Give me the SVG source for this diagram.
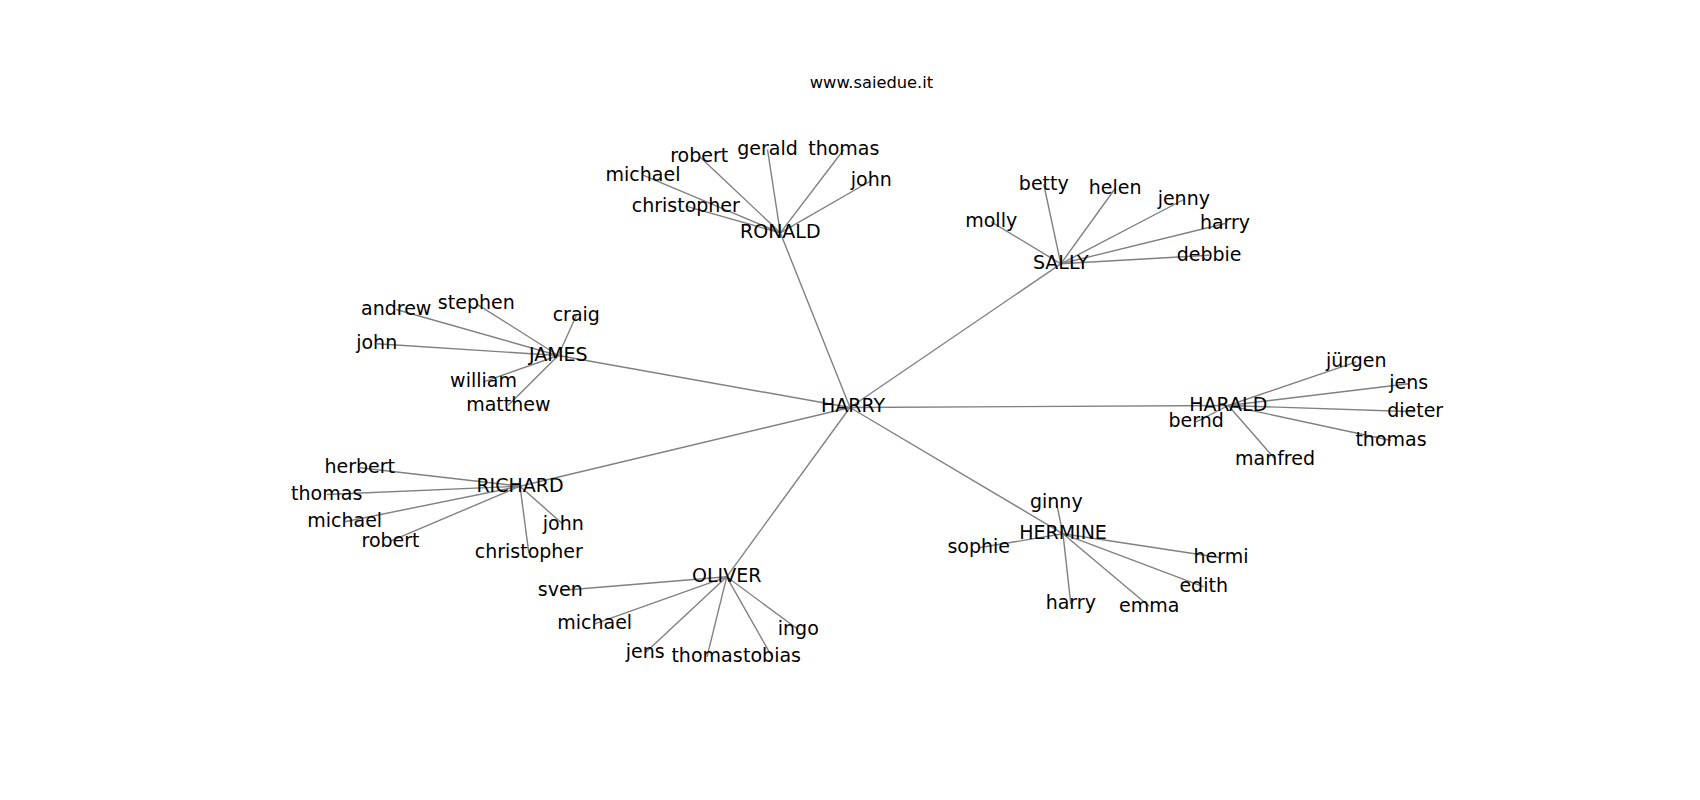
<svg xmlns="http://www.w3.org/2000/svg" width="1700" height="800" viewBox="0 0 1700 800">
<style>
text{font-family:"DejaVu Sans","Liberation Sans",sans-serif;font-size:19px;fill:#000;text-anchor:middle}
.title{font-size:16.3px}
#edges line{stroke:#808080;stroke-width:1.4}
</style>
<rect width="1700" height="800" fill="#fff"/>
<text class="title" x="871.5" y="88">www.saiedue.it</text>
<g id="edges">
<line x1="850" y1="407.5" x2="780.3" y2="232.8"/>
<line x1="850" y1="407.5" x2="1060.8" y2="263.8"/>
<line x1="850" y1="407.5" x2="558.3" y2="355.5"/>
<line x1="850" y1="407.5" x2="1228.3" y2="405.5"/>
<line x1="850" y1="407.5" x2="520" y2="486.2"/>
<line x1="850" y1="407.5" x2="726.7" y2="576.8"/>
<line x1="850" y1="407.5" x2="1063" y2="533.8"/>
<line x1="780.3" y1="232.8" x2="699.2" y2="156.2"/>
<line x1="780.3" y1="232.8" x2="767.5" y2="149.5"/>
<line x1="780.3" y1="232.8" x2="843.8" y2="149.5"/>
<line x1="780.3" y1="232.8" x2="643" y2="175.2"/>
<line x1="780.3" y1="232.8" x2="871.3" y2="180.5"/>
<line x1="780.3" y1="232.8" x2="685.8" y2="206.2"/>
<line x1="1060.8" y1="263.8" x2="1043.8" y2="184.5"/>
<line x1="1060.8" y1="263.8" x2="1115.2" y2="188.5"/>
<line x1="1060.8" y1="263.8" x2="991.2" y2="221.8"/>
<line x1="1060.8" y1="263.8" x2="1183.8" y2="199.5"/>
<line x1="1060.8" y1="263.8" x2="1225" y2="223.5"/>
<line x1="1060.8" y1="263.8" x2="1209.1" y2="255.2"/>
<line x1="1228.3" y1="405.5" x2="1356.3" y2="361.8"/>
<line x1="1228.3" y1="405.5" x2="1408.7" y2="383.8"/>
<line x1="1228.3" y1="405.5" x2="1196.2" y2="421.8"/>
<line x1="1228.3" y1="405.5" x2="1415.2" y2="411.8"/>
<line x1="1228.3" y1="405.5" x2="1391" y2="440.5"/>
<line x1="1228.3" y1="405.5" x2="1275" y2="459"/>
<line x1="558.3" y1="355.5" x2="396.2" y2="309.5"/>
<line x1="558.3" y1="355.5" x2="476.3" y2="303.8"/>
<line x1="558.3" y1="355.5" x2="576.3" y2="315.5"/>
<line x1="558.3" y1="355.5" x2="376.7" y2="343.8"/>
<line x1="558.3" y1="355.5" x2="483.5" y2="381.8"/>
<line x1="558.3" y1="355.5" x2="508.3" y2="405.2"/>
<line x1="520" y1="486.2" x2="359.7" y2="467.8"/>
<line x1="520" y1="486.2" x2="326.7" y2="494.5"/>
<line x1="520" y1="486.2" x2="344.7" y2="521.8"/>
<line x1="520" y1="486.2" x2="390.5" y2="541.2"/>
<line x1="520" y1="486.2" x2="563.3" y2="524.5"/>
<line x1="520" y1="486.2" x2="528.8" y2="552.8"/>
<line x1="726.7" y1="576.8" x2="560.3" y2="590.5"/>
<line x1="726.7" y1="576.8" x2="594.7" y2="623.8"/>
<line x1="726.7" y1="576.8" x2="798.3" y2="629.5"/>
<line x1="726.7" y1="576.8" x2="645.3" y2="652.8"/>
<line x1="726.7" y1="576.8" x2="707" y2="656.8"/>
<line x1="726.7" y1="576.8" x2="772" y2="656.8"/>
<line x1="1063" y1="533.8" x2="1056.3" y2="502.2"/>
<line x1="1063" y1="533.8" x2="978.7" y2="547.8"/>
<line x1="1063" y1="533.8" x2="1221" y2="557.8"/>
<line x1="1063" y1="533.8" x2="1203.7" y2="586.8"/>
<line x1="1063" y1="533.8" x2="1070.8" y2="603.8"/>
<line x1="1063" y1="533.8" x2="1149.2" y2="606.2"/>
</g>
<g id="harry"><text x="853" y="411.7">HARRY</text></g>
<g id="ronald"><text x="780.3" y="238.3">RONALD</text></g>
<g id="sally"><text x="1060.8" y="269.3">SALLY</text></g>
<g id="james"><text x="558.3" y="361">JAMES</text></g>
<g id="harald"><text x="1228.3" y="411">HARALD</text></g>
<g id="richard"><text x="520" y="491.7">RICHARD</text></g>
<g id="oliver"><text x="726.7" y="582.3">OLIVER</text></g>
<g id="hermine"><text x="1063" y="539.3">HERMINE</text></g>
<g id="ronald-robert"><text x="699.2" y="161.7">robert</text></g>
<g id="ronald-gerald"><text x="767.5" y="155">gerald</text></g>
<g id="ronald-thomas"><text x="843.8" y="155">thomas</text></g>
<g id="ronald-michael"><text x="643" y="180.7">michael</text></g>
<g id="ronald-john"><text x="871.3" y="186">john</text></g>
<g id="ronald-christopher"><text x="685.8" y="211.7">christopher</text></g>
<g id="sally-betty"><text x="1043.8" y="190">betty</text></g>
<g id="sally-helen"><text x="1115.2" y="194">helen</text></g>
<g id="sally-molly"><text x="991.2" y="227.3">molly</text></g>
<g id="sally-jenny"><text x="1183.8" y="205">jenny</text></g>
<g id="sally-harry"><text x="1225" y="229">harry</text></g>
<g id="sally-debbie"><text x="1209.1" y="260.7">debbie</text></g>
<g id="harald-jurgen"><text x="1356.3" y="367.3">jürgen</text></g>
<g id="harald-jens"><text x="1408.7" y="389.3">jens</text></g>
<g id="harald-bernd"><text x="1196.2" y="427.3">bernd</text></g>
<g id="harald-dieter"><text x="1415.2" y="417.3">dieter</text></g>
<g id="harald-thomas"><text x="1391" y="446">thomas</text></g>
<g id="harald-manfred"><text x="1275" y="464.5">manfred</text></g>
<g id="james-andrew"><text x="396.2" y="315">andrew</text></g>
<g id="james-stephen"><text x="476.3" y="309.3">stephen</text></g>
<g id="james-craig"><text x="576.3" y="321">craig</text></g>
<g id="james-john"><text x="376.7" y="349.3">john</text></g>
<g id="james-william"><text x="483.5" y="387.3">william</text></g>
<g id="james-matthew"><text x="508.3" y="410.7">matthew</text></g>
<g id="richard-herbert"><text x="359.7" y="473.3">herbert</text></g>
<g id="richard-thomas"><text x="326.7" y="500">thomas</text></g>
<g id="richard-michael"><text x="344.7" y="527.3">michael</text></g>
<g id="richard-robert"><text x="390.5" y="546.7">robert</text></g>
<g id="richard-john"><text x="563.3" y="530">john</text></g>
<g id="richard-christopher"><text x="528.8" y="558.3">christopher</text></g>
<g id="oliver-sven"><text x="560.3" y="596">sven</text></g>
<g id="oliver-michael"><text x="594.7" y="629.3">michael</text></g>
<g id="oliver-ingo"><text x="798.3" y="635">ingo</text></g>
<g id="oliver-jens"><text x="645.3" y="658.3">jens</text></g>
<g id="oliver-thomas"><text x="707" y="662.3">thomas</text></g>
<g id="oliver-tobias"><text x="772" y="662.3">tobias</text></g>
<g id="hermine-ginny"><text x="1056.3" y="507.7">ginny</text></g>
<g id="hermine-sophie"><text x="978.7" y="553.3">sophie</text></g>
<g id="hermine-hermi"><text x="1221" y="563.3">hermi</text></g>
<g id="hermine-edith"><text x="1203.7" y="592.3">edith</text></g>
<g id="hermine-harry"><text x="1070.8" y="609.3">harry</text></g>
<g id="hermine-emma"><text x="1149.2" y="611.7">emma</text></g>
</svg>
